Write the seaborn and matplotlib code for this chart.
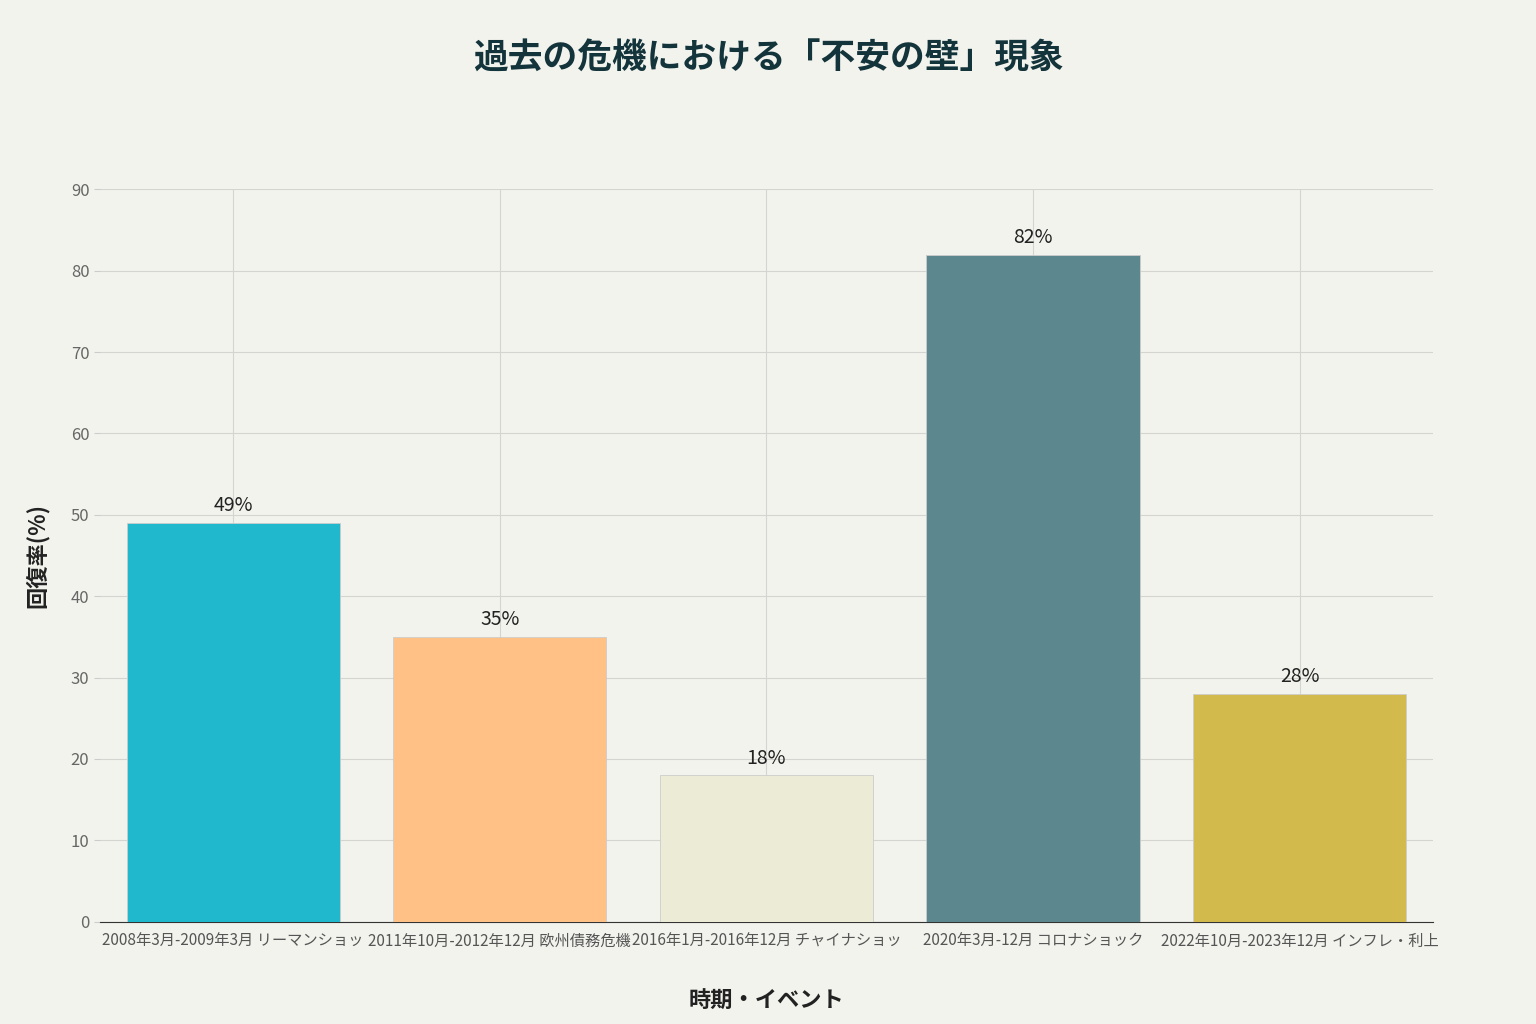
import pandas as pd
import seaborn as sns
import matplotlib.pyplot as plt

categories = [
    "2008年3月-2009年3月 リーマンショッ",
    "2011年10月-2012年12月 欧州債務危機",
    "2016年1月-2016年12月 チャイナショッ",
    "2020年3月-12月 コロナショック",
    "2022年10月-2023年12月 インフレ・利上",
]
recovery = [49, 35, 18, 82, 28]
colors = ["#1FB8CD", "#FFC185", "#ECEBD5", "#5D878F", "#D2BA4C"]

plt.rcParams["font.family"] = "Noto Sans CJK JP"
bg = "#F3F3EE"

df = pd.DataFrame({"event": categories, "rate": recovery})

fig = plt.figure(figsize=(15.36, 10.24), dpi=100, facecolor=bg)
ax = fig.add_axes([0.065, 0.10, 0.868, 0.715])
ax.set_facecolor(bg)

sns.barplot(data=df, x="event", y="rate", hue="event", palette=colors,
            saturation=1, legend=False, width=0.8, edgecolor="#cccccc",
            linewidth=0.6, ax=ax, zorder=3)

for i, v in enumerate(recovery):
    ax.text(i, v + 0.8, f"{v}%", ha="center", va="bottom", fontsize=14,
            color="#222222", zorder=4)

ax.set_ylim(0, 90)
ax.set_yticks(range(0, 91, 10))
ax.grid(True, color="#d4d4d0", linewidth=0.8, zorder=0)
ax.set_axisbelow(True)
for s in ["top", "right", "left"]:
    ax.spines[s].set_visible(False)
ax.spines["bottom"].set_color("#333333")
ax.tick_params(axis="y", colors="#666666", labelsize=12, length=4, color="#cccccc")
ax.tick_params(axis="x", colors="#555555", labelsize=11, length=0, pad=8)

ax.set_xlabel("時期・イベント", fontsize=16, fontweight="bold", color="#222222", labelpad=28)
ax.set_ylabel("回復率(%)", fontsize=16, fontweight="bold", color="#222222", labelpad=16)
fig.suptitle("過去の危機における「不安の壁」現象", fontsize=25, fontweight="bold",
             color="#13343B", y=0.96)

fig.savefig("out.png", dpi=100, facecolor=bg)
